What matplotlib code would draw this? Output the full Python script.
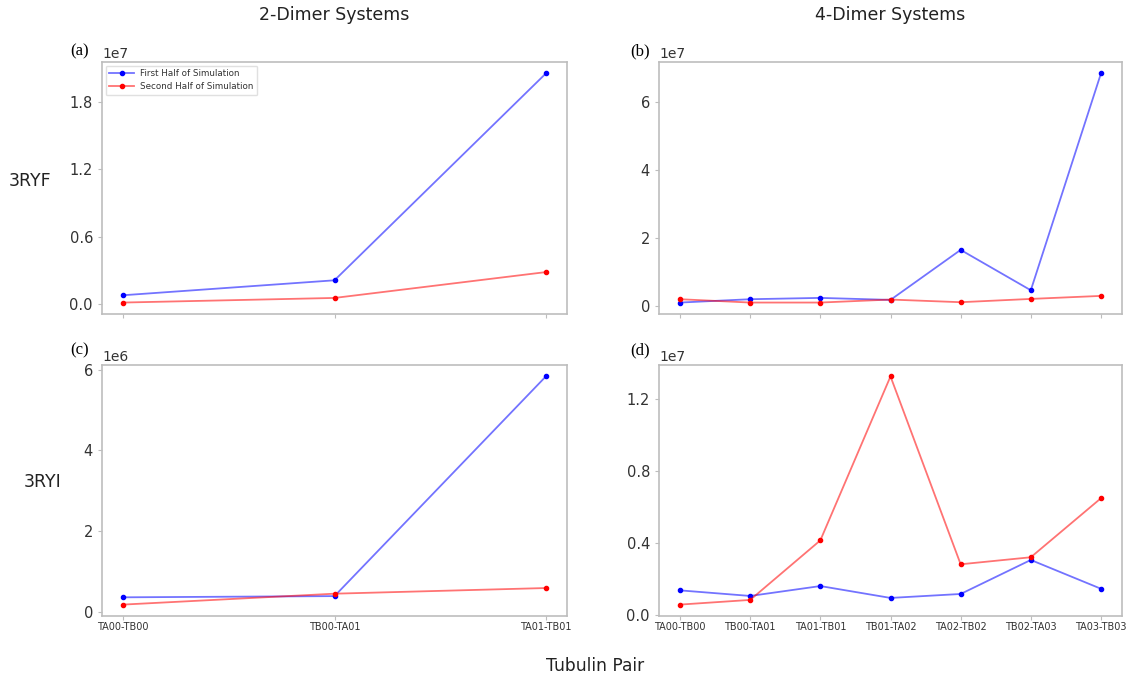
import matplotlib
matplotlib.use("Agg")
import matplotlib.pyplot as plt

# tubulin pair labels
pairs_2 = ["TA00-TB00", "TB00-TA01", "TA01-TB01"]
pairs_4 = ["TA00-TB00", "TB00-TA01", "TA01-TB01", "TB01-TA02",
           "TA02-TB02", "TB02-TA03", "TA03-TB03"]

# (a) 3RYF, 2-dimer
ryf2_first = [0.08e7, 0.213e7, 2.054e7]
ryf2_second = [0.015e7, 0.056e7, 0.286e7]
# (b) 3RYF, 4-dimer
ryf4_first = [0.098e7, 0.196e7, 0.235e7, 0.176e7, 1.65e7, 0.46e7, 6.85e7]
ryf4_second = [0.196e7, 0.098e7, 0.098e7, 0.186e7, 0.108e7, 0.205e7, 0.294e7]
# (c) 3RYI, 2-dimer
ryi2_first = [0.36e6, 0.39e6, 5.83e6]
ryi2_second = [0.18e6, 0.45e6, 0.59e6]
# (d) 3RYI, 4-dimer
ryi4_first = [0.138e7, 0.107e7, 0.162e7, 0.096e7, 0.118e7, 0.307e7, 0.147e7]
ryi4_second = [0.059e7, 0.085e7, 0.416e7, 1.327e7, 0.283e7, 0.322e7, 0.650e7]

W, H = 1130, 679
fig = plt.figure(figsize=(W / 100, H / 100), dpi=100)


def px_axes(x0, y0, x1, y1):
    return fig.add_axes([x0 / W, 1 - y1 / H, (x1 - x0) / W, (y1 - y0) / H])


def panel(ax, labels, first, second, yticks, show_x):
    x = range(len(labels))
    ax.plot(x, first, color=(0, 0, 1, 0.55), lw=1.3, marker="o", ms=3,
            mfc="blue", mec="blue", label="First Half of Simulation")
    ax.plot(x, second, color=(1, 0, 0, 0.55), lw=1.3, marker="o", ms=3,
            mfc="red", mec="red", label="Second Half of Simulation")
    ax.set_xticks(list(x))
    ax.set_xticklabels(labels if show_x else [])
    ax.set_yticks(yticks)
    for s in ax.spines.values():
        s.set_color("#bdbdbd")
        s.set_linewidth(1.2)
    ax.tick_params(axis="y", labelsize=10.5, colors="#bdbdbd", labelcolor="#333333", length=3)
    ax.tick_params(axis="x", labelsize=7, colors="#bdbdbd", labelcolor="#333333", length=3, pad=1)
    ax.yaxis.get_offset_text().set_fontsize(10)
    ax.yaxis.get_offset_text().set_color("#333333")


ax_a = px_axes(102, 62, 567, 314)
ax_b = px_axes(659, 62, 1122, 314)
ax_c = px_axes(102, 365, 567, 616)
ax_d = px_axes(659, 365, 1122, 616)

panel(ax_a, pairs_2, ryf2_first, ryf2_second, [0, 0.6e7, 1.2e7, 1.8e7], False)
panel(ax_b, pairs_4, ryf4_first, ryf4_second, [0, 2e7, 4e7, 6e7], False)
panel(ax_c, pairs_2, ryi2_first, ryi2_second, [0, 2e6, 4e6, 6e6], True)
panel(ax_d, pairs_4, ryi4_first, ryi4_second, [0, 0.4e7, 0.8e7, 1.2e7], True)

leg = ax_a.legend(loc="upper left", fontsize=6.3, handlelength=2.8, handletextpad=0.7,
                  borderpad=0.45, labelspacing=0.45, borderaxespad=0.4, framealpha=1)
leg.get_frame().set_edgecolor("#e0e0e0")
for t in leg.get_texts():
    t.set_color("#333333")

txt = dict(color="#222222", ha="center", va="center")
fig.text(334.5 / W, 1 - 15 / H, "2-Dimer Systems", fontsize=12.5, **txt)
fig.text(890.5 / W, 1 - 15 / H, "4-Dimer Systems", fontsize=12.5, **txt)
fig.text(30 / W, 1 - 181 / H, "3RYF", fontsize=12.5, **txt)
fig.text(43 / W, 1 - 482 / H, "3RYI", fontsize=12.5, **txt)
fig.text(595.5 / W, 1 - 666 / H, "Tubulin Pair", fontsize=12.3, **txt)

for lab, xx, yy in [("(a)", 80, 51), ("(b)", 640, 51), ("(c)", 80, 350), ("(d)", 640, 350)]:
    fig.text(xx / W, 1 - yy / H, lab, fontsize=12, family="Liberation Serif",
             color="black", ha="center", va="center")

fig.savefig("out.png", dpi=100)
